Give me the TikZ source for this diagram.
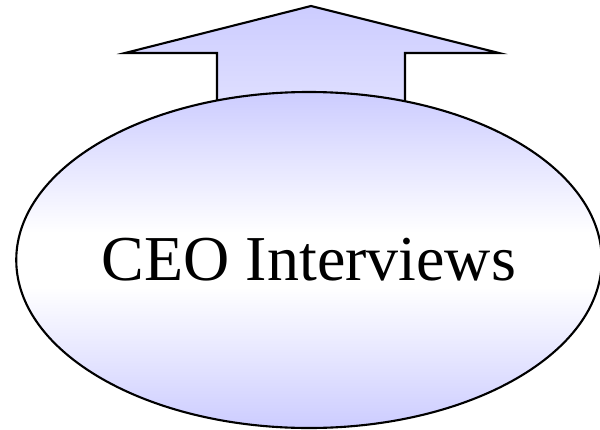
\documentclass[tikz,border=0pt]{standalone}
\usepackage{fontspec}
\setmainfont{Liberation Serif}
\usepackage{tikz}
\usetikzlibrary{shapes.geometric}
\definecolor{lav}{HTML}{CCCCFF}
\definecolor{lavpale}{HTML}{E4E4FF}
% lavender at top and bottom, white band in the middle
\pgfdeclareverticalshading{lavband}{100bp}{color(0bp)=(lav); color(25bp)=(lav);
  color(46bp)=(white); color(54bp)=(white); color(75bp)=(lav); color(100bp)=(lav)}
\tikzset{
  outline/.style={draw=black,line width=1.5pt,line join=miter},
  blob/.style={ellipse,outline,shading=lavband,
    minimum width=582*0.025cm,minimum height=336*0.025cm,inner sep=0pt,
    font=\fontsize{45.5}{50}\selectfont},
  uparrow/.style={outline,top color=lav,bottom color=lavpale},
}

\begin{document}
\begin{tikzpicture}[x=0.025cm,y=-0.025cm]
\useasboundingbox (0,0) rectangle (600,429);
% block arrow first, its foot tucked under the ellipse
\draw[uparrow] (311,6) -- (499,53) -- (405,53) -- (405,130)
  -- (217,130) -- (217,53) -- (125,53) -- cycle;
\node[blob] (ceo) at (309,260) {CEO Interviews};
\end{tikzpicture}
\end{document}
